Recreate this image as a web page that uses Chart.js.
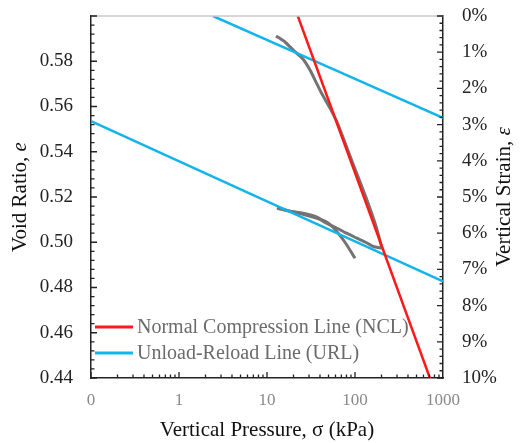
<!doctype html>
<html lang="en">
  <head>
    <meta charset="utf-8">
    <title>Void ratio vs vertical pressure</title>
    <style>
      * { margin: 0; padding: 0; }
      body { background: #fff; }
      .chartBox { width: 521px; height: 443px; }
    </style>
  </head>
  <body>
    <div class="chartBox">
      <canvas id="myChart" width="521" height="443"></canvas>
    </div>
    <script src="https://cdn.jsdelivr.net/npm/chart.js/dist/chart.umd.min.js"></script>
    <script>
    // data
    const nclPressure = [22.4, 710];
    const nclVoid = [0.600, 0.440];

    const urlUpperPressure = [2.43, 1000];
    const urlUpperVoid = [0.600, 0.555];

    const urlLowerPressure = [0.1, 1000];
    const urlLowerVoid = [0.5535, 0.4827];

    // measured test curve (loading, unloading, reloading)
    const loadPressure = [12.66, 16.02, 19.75, 25.66, 30.81, 36.06, 42.17, 51.99, 62.44, 92.46, 136.9, 173.2, 202.7];
    const loadVoid = [0.5912, 0.5885, 0.5850, 0.5810, 0.5761, 0.5708, 0.5655, 0.5593, 0.5531, 0.5358, 0.5186, 0.5071, 0.4973];

    const unloadPressure = [202.7, 160, 132, 105.4, 80, 62.4, 45.6, 37.0, 25.6, 18.2, 13.0];
    const unloadVoid = [0.4973, 0.4982, 0.5000, 0.5018, 0.5040, 0.5062, 0.5088, 0.5111, 0.5128, 0.5137, 0.5155];

    const reloadPressure = [13.0, 25.6, 45.6, 56.2, 76.9, 100];
    const reloadVoid = [0.5150, 0.5124, 0.5093, 0.5066, 0.5000, 0.4929];

    const xTickLabels = { 0.1: '0', 1: '1', 10: '10', 100: '100', 1000: '1000' };
    const voidTicks = [0.44, 0.46, 0.48, 0.50, 0.52, 0.54, 0.56, 0.58];
    const strainTicks = [0, 1, 2, 3, 4, 5, 6, 7, 8, 9, 10];

    const serif = "'Liberation Serif', 'DejaVu Serif', serif";

    function pts(xs, ys) {
      return xs.map((x, i) => ({ x: x, y: ys[i] }));
    }

    const data = {
      datasets: [
        { label: 'Normal Compression Line (NCL)', data: pts(nclPressure, nclVoid),
          borderColor: '#ff1a1a', borderWidth: 2.5, legend: true },
        { label: 'Unload-Reload Line (URL)', data: pts(urlUpperPressure, urlUpperVoid),
          borderColor: '#12b4ec', borderWidth: 2.5, legend: true },
        { label: 'URL 2', data: pts(urlLowerPressure, urlLowerVoid),
          borderColor: '#12b4ec', borderWidth: 2.5 },
        { label: 'loading', data: pts(loadPressure, loadVoid),
          borderColor: '#737373', borderWidth: 3 },
        { label: 'unloading', data: pts(unloadPressure, unloadVoid),
          borderColor: '#737373', borderWidth: 3 },
        { label: 'reloading', data: pts(reloadPressure, reloadVoid),
          borderColor: '#737373', borderWidth: 3 }
      ]
    };

    // draws "normal text" + "italic symbol", rotated to read bottom-up
    function drawVTitle(ctx, cx, cy, text, sym) {
      const fn = '21px ' + serif, fi = 'italic 21px ' + serif;
      ctx.save();
      ctx.translate(cx, cy);
      ctx.rotate(-Math.PI / 2);
      ctx.font = fn;
      const w1 = ctx.measureText(text).width;
      ctx.font = fi;
      const w2 = ctx.measureText(sym).width;
      const x0 = -(w1 + w2) / 2;
      ctx.fillStyle = '#111';
      ctx.textBaseline = 'middle';
      ctx.textAlign = 'left';
      ctx.font = fn;
      ctx.fillText(text, x0, 0);
      ctx.font = fi;
      ctx.fillText(sym, x0 + w1, 0);
      ctx.restore();
    }

    // inward ticks, top border, y titles and legend
    const decorPlugin = {
      id: 'decor',
      beforeDatasetsDraw(chart) {
        const ctx = chart.ctx;
        const a = chart.chartArea;
        ctx.save();
        // legend inside the plot
        const items = chart.data.datasets.filter(d => d.legend);
        ctx.font = '20px ' + serif;
        ctx.textBaseline = 'middle';
        items.forEach((d, i) => {
          const y = a.bottom - 51 + i * 26;
          ctx.strokeStyle = d.borderColor;
          ctx.lineWidth = 3;
          ctx.beginPath();
          ctx.moveTo(a.left + 4, y);
          ctx.lineTo(a.left + 42, y);
          ctx.stroke();
          ctx.fillStyle = '#6b6b6b';
          ctx.fillText(d.label, a.left + 46, y + 1);
        });
        ctx.restore();
      },
      afterDraw(chart) {
        const ctx = chart.ctx;
        const a = chart.chartArea;
        const sx = chart.scales.x, sy = chart.scales.y, sy2 = chart.scales.y2;
        const midY = (a.top + a.bottom) / 2;
        drawVTitle(ctx, 20, midY, 'Void Ratio, ', 'e');
        drawVTitle(ctx, 504, midY, 'Vertical Strain, ', 'ε');

        ctx.save();
        ctx.strokeStyle = '#c8c8c8';
        ctx.lineWidth = 1.5;
        ctx.beginPath();
        ctx.moveTo(a.left, a.top);
        ctx.lineTo(a.right, a.top);
        ctx.stroke();

        ctx.strokeStyle = '#222';
        ctx.lineWidth = 1.3;
        ctx.beginPath();
        // left axis
        for (let i = 0; i <= 40; i++) {
          const v = 0.44 + i * 0.004;
          const y = sy.getPixelForValue(v);
          const len = i % 5 === 0 ? 6 : 3.5;
          ctx.moveTo(a.left, y);
          ctx.lineTo(a.left + len, y);
        }
        // right axis
        for (let i = 0; i <= 50; i++) {
          const v = i * 0.2;
          const y = sy2.getPixelForValue(v);
          const len = i % 5 === 0 ? 6 : 3.5;
          ctx.moveTo(a.right, y);
          ctx.lineTo(a.right - len, y);
        }
        // bottom axis
        for (let dec = 0.1; dec < 1000; dec *= 10) {
          for (let m = 1; m < 10; m++) {
            const x = sx.getPixelForValue(dec * m);
            const len = m === 1 ? 6 : 3.5;
            ctx.moveTo(x, a.bottom);
            ctx.lineTo(x, a.bottom - len);
          }
        }
        ctx.stroke();
        ctx.restore();
      }
    };

    function fixWidth(w) {
      return s => {
        s.width = w;
        s.paddingTop = 0;
        s.paddingBottom = 0;
      };
    }

    const config = {
      type: 'scatter',
      data,
      options: {
        responsive: false,
        animation: false,
        showLine: true,
        clip: true,
        layout: { padding: { top: 16, left: 0, right: 0, bottom: 0 } },
        elements: { point: { radius: 0 }, line: { tension: 0.25 } },
        plugins: { legend: { display: false }, tooltip: { enabled: false } },
        scales: {
          x: {
            type: 'logarithmic',
            min: 0.1,
            max: 1000,
            afterFit: s => { s.height = 65; s.paddingLeft = 0; s.paddingRight = 0; },
            grid: { drawOnChartArea: false, drawTicks: false },
            border: { color: '#222', width: 1.5 },
            ticks: {
              autoSkip: false,
              maxRotation: 0,
              padding: 12,
              color: '#8a8a8a',
              font: { family: serif, size: 17 },
              callback: v => {
                const key = Math.round(v * 10) / 10;
                return [0.1, 1, 10, 100, 1000].includes(key) ? xTickLabels[key] : '';
              }
            },
            title: {
              display: true,
              text: 'Vertical Pressure, σ (kPa)',
              color: '#111',
              font: { family: serif, size: 21 },
              padding: { top: 0, bottom: 0 }
            }
          },
          y: {
            position: 'left',
            min: 0.44,
            max: 0.60,
            afterFit: fixWidth(91),
            afterBuildTicks: s => { s.ticks = voidTicks.map(v => ({ value: v })); },
            grid: { drawOnChartArea: false, drawTicks: false },
            border: { color: '#222', width: 1.5 },
            ticks: {
              padding: 18,
              color: '#222',
              font: { family: serif, size: 19 },
              callback: v => v.toFixed(2)
            }
          },
          y2: {
            position: 'right',
            min: 0,
            max: 10,
            reverse: true,
            afterFit: fixWidth(78),
            afterBuildTicks: s => { s.ticks = strainTicks.map(v => ({ value: v })); },
            grid: { drawOnChartArea: false, drawTicks: false },
            border: { color: '#222', width: 1.5 },
            ticks: {
              padding: 19,
              color: '#222',
              font: { family: serif, size: 19 },
              callback: v => v + '%'
            }
          }
        }
      },
      plugins: [decorPlugin]
    };

    const myChart = new Chart(document.getElementById('myChart'), config);
    </script>
  </body>
</html>
